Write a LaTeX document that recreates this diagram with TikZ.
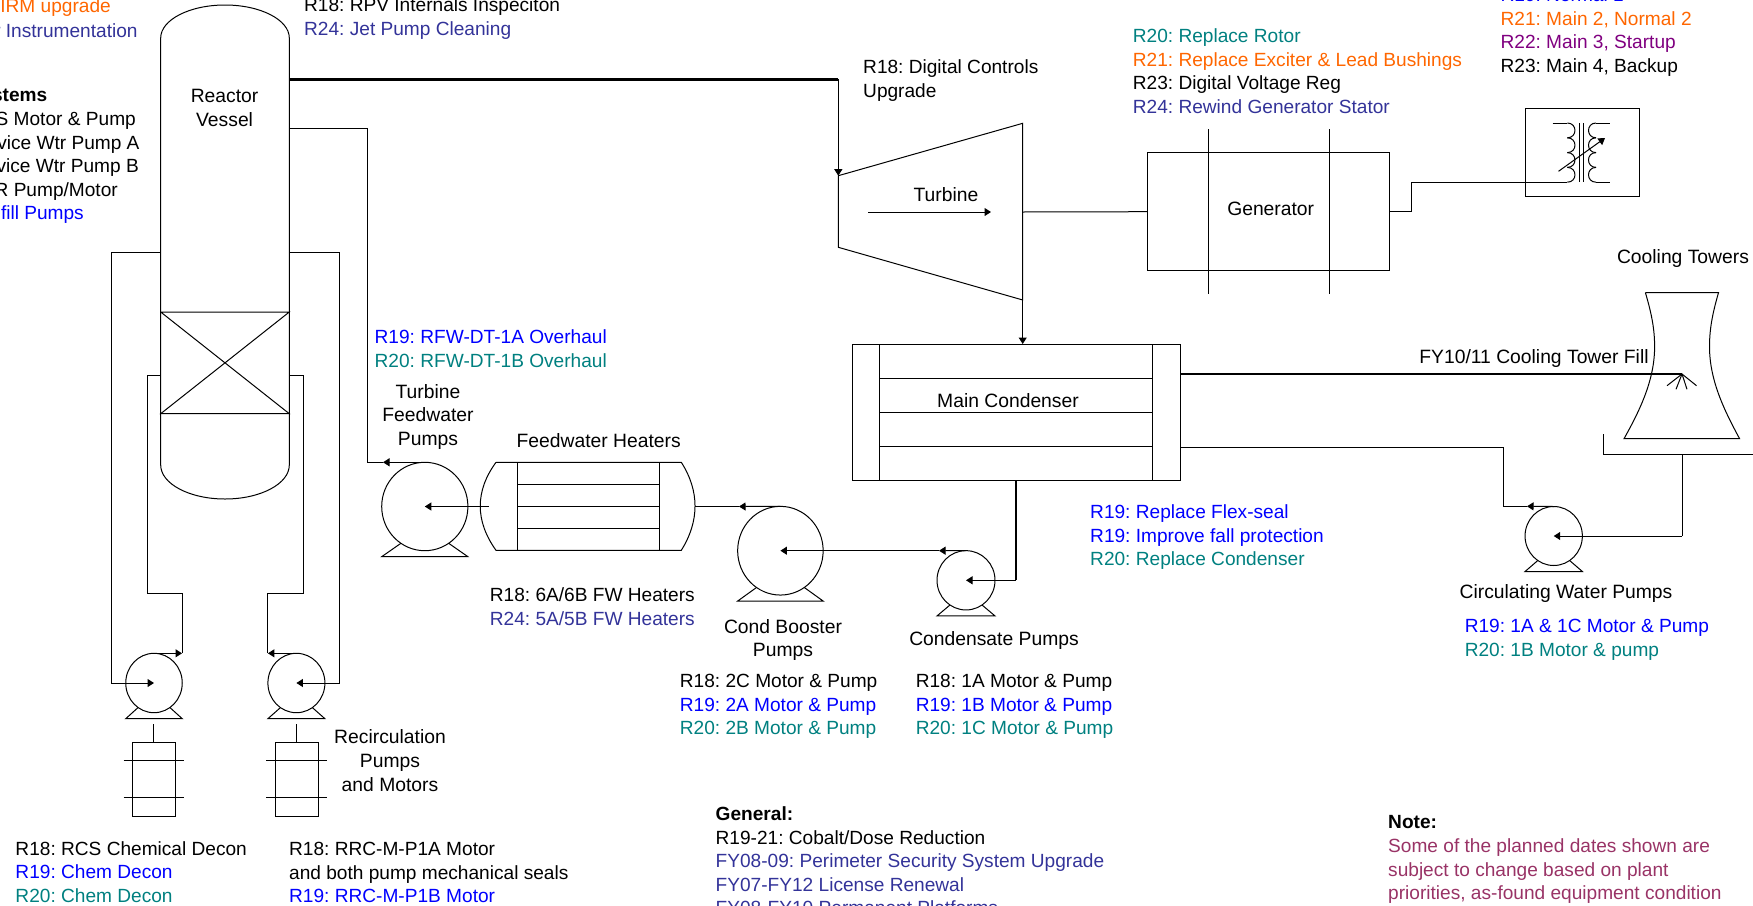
\documentclass[tikz,border=0pt]{standalone}
\usepackage{fontspec}
\setmainfont{Liberation Sans}
\usepackage{xcolor}
\usetikzlibrary{arrows.meta, shapes.geometric}
\definecolor{rblue}{RGB}{0,0,255}
\definecolor{rteal}{RGB}{0,128,128}
\definecolor{rorange}{RGB}{255,102,0}
\definecolor{rindigo}{RGB}{51,51,153}
\definecolor{rpurple}{RGB}{128,0,128}
\definecolor{rplum}{RGB}{153,51,102}

\begin{document}
\frenchspacing
\begin{tikzpicture}[
        x=1pt, y=-1pt,
        equip/.style={line width=1pt, line join=miter},
        pipe/.style={line width=1pt},
        flow/.style={line width=1pt, -{Triangle[length=6.5pt,width=8pt]}},
        steam/.style={line width=3pt},
        pumpbody/.style={ellipse, draw, line width=1pt, inner sep=0pt, outer sep=0pt},
        note/.style={anchor=north west, align=left, inner sep=0pt, font=\fontsize{19.1}{23.6}\selectfont},
        title/.style={align=center, inner sep=0pt, font=\fontsize{19.3}{23.6}\selectfont},
        edgetext/.style={anchor=east, inner sep=0pt, font=\fontsize{19.1}{23.6}\selectfont},
    ]
    \useasboundingbox (0,0) rectangle (1753,905);
    % REACTOR VESSEL
    \draw[equip] (160.7,465) -- (160.7,38) .. controls (160.7,19.8) and (189.5,5) .. (225,5)
        .. controls (260.5,5) and (289.3,19.8) .. (289.3,38) -- (289.3,465)
        .. controls (289.3,483.8) and (260.5,499) .. (225,499)
        .. controls (189.5,499) and (160.7,483.8) .. (160.7,465);
    \draw[equip] (160.7,312) -- (289.3,312) -- (160.7,413.7) -- (289.3,413.7) -- (160.7,312);
    % PUMPS
    \foreach \p/\cx/\cy/\pw/\ph in {rcpa/154/683/56.5/59.4,rcpb/296.4/683/57/59.4,tfp/424.8/506.5/86.2/88.4,
            cbp/780.4/550.7/85.5/88.7,cdp/966/580.3/58/59.3,cwp/1553.7/536/57.3/59}{
        \node[pumpbody, minimum width=\pw pt, minimum height=\ph pt] (\p) at (\cx,\cy) {};
        \draw[equip] (\p.237) -- (\cx-\pw/2,\cy+\ph/2+6) -- (\cx+\pw/2,\cy+\ph/2+6) -- (\p.303);
    }
    % RECIRC MOTORS
    \foreach \mx/\mw/\ml in {153.8/21.4/30.3,296.6/21.4/30.4}{
        \draw[equip] (\mx,724) -- (\mx,742);
        \draw[equip] (\mx-\mw,742) rectangle (\mx+\mw,816);
        \draw[equip] (\mx-\ml,760.7) -- (\mx+\ml,760.7);
        \draw[equip] (\mx-\ml,797.3) -- (\mx+\ml,797.3);
    }
    % RECIRC PIPING
    \coordinate (rvl1) at (160.7,252); \coordinate (rvr1) at (289.3,252);
    \coordinate (rvl2) at (160.7,375.7); \coordinate (rvr2) at (289.3,375.7);
    \coordinate (la1) at (111,252); \coordinate (la2) at (111,683);
    \coordinate (ra1) at (339.2,252); \coordinate (ra2) at (339.2,683);
    \coordinate (lb0) at (182,653.3); \coordinate (lb1) at (182,593.7);
    \coordinate (lb2) at (147.3,593.7); \coordinate (lb3) at (147.3,375.7);
    \coordinate (rb0) at (267.9,653.3); \coordinate (rb1) at (267.9,593.7);
    \coordinate (rb2) at (303.3,593.7); \coordinate (rb3) at (303.3,375.7);
    \draw[flow] (rvl1) -- (la1) -- (la2) -- (rcpa.center);
    \draw[flow] (rvr1) -- (ra1) -- (ra2) -- (rcpb.center);
    \draw[flow] (rcpa.north) -- (lb0);
    \draw[flow] (rcpb.north) -- (rb0);
    \draw[pipe] (lb0) -- (lb1) -- (lb2) -- (lb3) -- (rvl2);
    \draw[pipe] (rb0) -- (rb1) -- (rb2) -- (rb3) -- (rvr2);
    % TURBINE AND GENERATOR
    \coordinate (tbin) at (838.3,175.7); \coordinate (tbtop) at (1022.7,123.3);
    \coordinate (tbbot) at (1022.7,300); \coordinate (tbout) at (838.3,247.3);
    \coordinate (tbsh) at (1022.7,212); \coordinate (rvtop) at (289.3,79);
    \coordinate (stm) at (838.3,79);
    \draw[equip] (tbin) -- (tbtop) -- (tbbot) -- (tbout) -- cycle;
    \draw[steam] (rvtop) -- (stm);
    \draw[flow] (stm) -- (tbin);
    \coordinate (tba) at (868,212); \coordinate (tbb) at (991,212);
    \draw[flow] (tba) -- (tbb);
    \node[draw, equip, minimum width=242.2pt, minimum height=118pt, inner sep=0pt, outer sep=0pt] (gen) at (1268.6,211.7) {};
    \draw[pipe] (tbsh) -- (gen.west);
    \draw[equip] (1208.3,129) -- (1208.3,294); \draw[equip] (1329.3,129) -- (1329.3,294);
    % TRANSFORMER
    \node[draw, equip, minimum width=114pt, minimum height=88.7pt, inner sep=0pt, outer sep=0pt] (xfmr) at (1582,152.6) {};
    \foreach \wy in {123,137.8,152.6,167.4}{
        \draw[equip] (1567.3,\wy) .. controls (1577.5,\wy) and (1577.5,\wy+14.8) .. (1567.3,\wy+14.8);
        \draw[equip] (1596,\wy) .. controls (1586,\wy) and (1586,\wy+14.8) .. (1596,\wy+14.8);
    }
    \draw[equip] (1552.7,123) -- (1567.3,123); \draw[equip] (1596,123) -- (1610.4,123);
    \draw[equip] (1596,182.2) -- (1610.4,182.2);
    \draw[equip] (1579,123) -- (1579,182.2); \draw[equip] (1583.5,123) -- (1583.5,182.2);
    \coordinate (xarr) at (1558.5,171.3); \coordinate (xarh) at (1605,138);
    \draw[flow] (xarr) -- (xarh);
    \coordinate (xin) at (1567.3,182.2); \coordinate (xj1) at (1411.5,211.7); \coordinate (xj2) at (1411.5,182.2);
    \draw[pipe] (gen.east) -- (xj1) -- (xj2) -- (xin);
    % CONDENSER
    \node[draw, equip, minimum width=328pt, minimum height=136pt, inner sep=0pt, outer sep=0pt] (cond) at (1016,412) {};
    \draw[equip] (879.5,344) -- (879.5,480); \draw[equip] (1152.5,344) -- (1152.5,480);
    \foreach \hy in {378,412,446}{
        \draw[equip] (879.5,\hy) -- (1152.5,\hy);
    }
    \draw[flow] (tbbot) -- (cond.north -| tbbot);
    % FEEDWATER HEATERS
    \draw[equip] (496,462.3) -- (681.3,462.3) .. controls (699.6,491) and (699.6,521) .. (681.3,550.3)
        -- (496,550.3) .. controls (475,521) and (475,491) .. (496,462.3);
    \draw[equip] (517.4,462.3) -- (517.4,550.3); \draw[equip] (659.4,462.3) -- (659.4,550.3);
    \foreach \hy in {484.3,506.5,528.7}{
        \draw[equip] (517.4,\hy) -- (659.4,\hy);
    }
    % CONDENSATE AND FEED PIPING
    \coordinate (rvf) at (289.3,128.3); \coordinate (fj1) at (367.7,128.3); \coordinate (fj2) at (367.7,462.3);
    \coordinate (fa1) at (383,462.3); \coordinate (hout) at (488.8,506.5); \coordinate (hin) at (695,506.5);
    \coordinate (ha1) at (739,506.5); \coordinate (ca1) at (939,550.7);
    \coordinate (cdb) at (1016,480); \coordinate (cdj) at (1016,580.3);
    \draw[pipe] (rvf) -- (fj1) -- (fj2) -- (fa1);
    \draw[flow] (tfp.north) -- (fa1);
    \draw[flow] (hout) -- (tfp.center);
    \draw[pipe] (hin) -- (ha1);
    \draw[flow] (cbp.north) -- (ha1);
    \draw[flow] (ca1) -- (cbp.center);
    \draw[flow] (cdp.north) -- (ca1);
    \draw[pipe, line width=1.5pt] (cdb) -- (cdj);
    \draw[flow] (cdj) -- (cdp.center);
    % COOLING TOWER
    \draw[equip] (1645.4,292.7) -- (1718.5,292.7) .. controls (1712,315) and (1709.5,330) .. (1709.5,346.7)
        .. controls (1709.5,380) and (1724,410) .. (1739.6,438.7) -- (1624,438.7)
        .. controls (1640,410) and (1654.6,380) .. (1654.6,346.7) .. controls (1654.6,330) and (1652,315) .. (1645.4,292.7);
    \coordinate (spray) at (1682,374); \coordinate (cout) at (1180,374);
    \draw[pipe, line width=1.3pt] (cout) -- (spray);
    \foreach \sx/\sy in {1667/385.7,1676/389.3,1687/389.3,1696.5/385.7}{
        \draw[equip] (spray) -- (\sx,\sy);
    }
    \coordinate (bs1) at (1603.8,434.3); \coordinate (bs2) at (1603.8,454.3); \coordinate (bs3) at (1753,454.3);
    \draw[pipe, line width=1.3pt] (bs1) -- (bs2) -- (bs3);
    \coordinate (bso) at (1682,454.3); \coordinate (bsj) at (1682,536);
    \coordinate (cin) at (1180,447.7); \coordinate (cj1) at (1503.8,447.7); \coordinate (cj2) at (1503.8,506.3);
    \coordinate (cwa) at (1527,506.3);
    \draw[pipe] (bso) -- (bsj);
    \draw[flow] (bsj) -- (cwp.center);
    \draw[pipe] (cin) -- (cj1) -- (cj2) -- (cwa);
    \draw[flow] (cwp.north) -- (cwa);
    % EQUIPMENT LABELS
    \node[title] (lrv) at (224.6,108) {Reactor\\Vessel};
    \node[title] (ltb) at (946,195) {Turbine};
    \node[title] (lgen) at (1270.7,209) {Generator};
    \node[title] (lct) at (1683,259) {Cooling Towers};
    \node[title] (lfill) at (1534,359) {FY10/11 Cooling Tower Fill};
    \node[title] (lmc) at (1008,401) {Main Condenser};
    \node[title] (ltfp) at (428,417) {Turbine\\Feedwater\\Pumps};
    \node[title] (lfwh) at (598.7,440.7) {Feedwater Heaters};
    \node[title] (lcbp) at (783,640) {Cond Booster\\Pumps};
    \node[title] (lcdp) at (994,640) {Condensate Pumps};
    \node[title] (lcwp) at (1566,593.5) {Circulating Water Pumps};
    \node[title] (lrp) at (390,760.5) {Recirculation\\Pumps\\and Motors};
    % CUT OFF AT THE LEFT EDGE
    \node[edgetext, text=rorange] (e1) at (111,7.5) {IRM upgrade};
    \node[edgetext, text=rindigo] (e2) at (137.8,31) {r Instrumentation};
    \node[edgetext] (e3) at (47.5,95.7) {\textbf{stems}};
    \node[edgetext] (e4) at (136,121) {S Motor \& Pump};
    \node[edgetext] (e5) at (139.7,145) {vice Wtr Pump A};
    \node[edgetext] (e6) at (139,168) {vice Wtr Pump B};
    \node[edgetext] (e7) at (118,192) {R Pump/Motor};
    \node[edgetext, text=rblue] (e8) at (84,215) {fill Pumps};
    % OUTAGE NOTES
    \node[note] (n1) at (304,-2.4) {R18: RPV Internals Inspeciton\\\textcolor{rindigo}{R24: Jet Pump Cleaning}};
    \node[note] (n2) at (863,59.9) {R18: Digital Controls\\Upgrade};
    \node[note] (n3) at (1132.7,28.5) {\textcolor{rteal}{R20: Replace Rotor}\\\textcolor{rorange}{R21: Replace Exciter \& Lead Bushings}\\R23: Digital Voltage Reg\\\textcolor{rindigo}{R24: Rewind Generator Stator}};
    \node[note] (n4) at (1500.4,-12.3) {\textcolor{rblue}{R19: Normal 1}\\\textcolor{rorange}{R21: Main 2, Normal 2}\\\textcolor{rpurple}{R22: Main 3, Startup}\\R23: Main 4, Backup};
    \node[note] (n5) at (374.5,329.7) {\textcolor{rblue}{R19: RFW-DT-1A Overhaul}\\\textcolor{rteal}{R20: RFW-DT-1B Overhaul}};
    \node[note] (n6) at (489.7,587.5) {R18: 6A/6B FW Heaters\\\textcolor{rindigo}{R24: 5A/5B FW Heaters}};
    \node[note] (n7) at (679.7,674) {R18: 2C Motor \& Pump\\\textcolor{rblue}{R19: 2A Motor \& Pump}\\\textcolor{rteal}{R20: 2B Motor \& Pump}};
    \node[note] (n8) at (915.6,674) {R18: 1A Motor \& Pump\\\textcolor{rblue}{R19: 1B Motor \& Pump}\\\textcolor{rteal}{R20: 1C Motor \& Pump}};
    \node[note] (n9) at (1090,504.5) {\textcolor{rblue}{R19: Replace Flex-seal}\\\textcolor{rblue}{R19: Improve fall protection}\\\textcolor{rteal}{R20: Replace Condenser}};
    \node[note] (n10) at (1464.6,619.2) {\textcolor{rblue}{R19: 1A \& 1C Motor \& Pump}\\\textcolor{rteal}{R20: 1B Motor \& pump}};
    \node[note] (n11) at (15.3,841.2) {R18: RCS Chemical Decon\\\textcolor{rblue}{R19: Chem Decon}\\\textcolor{rteal}{R20: Chem Decon}};
    \node[note] (n12) at (289,841.9) {R18: RRC-M-P1A Motor\\and both pump mechanical seals\\\textcolor{rblue}{R19: RRC-M-P1B Motor}};
    \node[note] (n13) at (715.5,806.5) {\textbf{General:}\\R19-21: Cobalt/Dose Reduction\\\textcolor{rindigo}{FY08-09: Perimeter Security System Upgrade}\\\textcolor{rindigo}{FY07-FY12 License Renewal}\\\textcolor{rindigo}{FY08-FY10 Permanent Platforms}};
    \node[note] (n14) at (1388,815.5) {\textbf{Note:}\\\textcolor{rplum}{Some of the planned dates shown are}\\\textcolor{rplum}{subject to change based on plant}\\\textcolor{rplum}{priorities, as-found equipment condition}};
\end{tikzpicture}
\end{document}
